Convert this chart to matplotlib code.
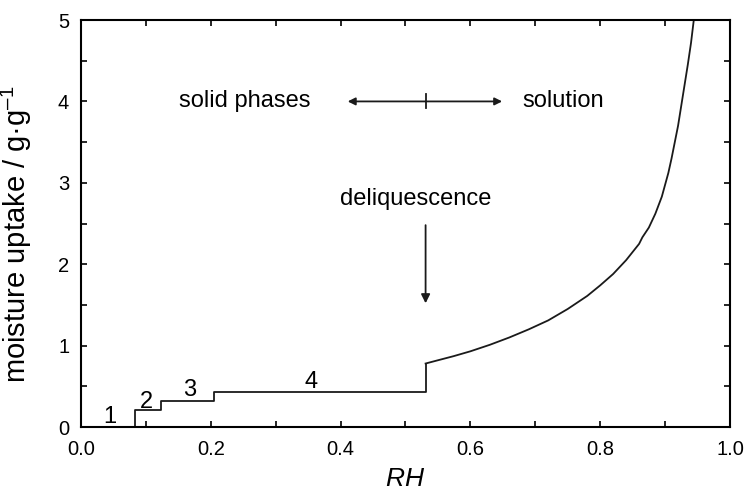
import matplotlib
matplotlib.use("Agg")
import matplotlib.pyplot as plt
from matplotlib.ticker import MultipleLocator, FormatStrFormatter

plt.rcParams['font.family'] = ['Liberation Sans', 'DejaVu Sans']
plt.rcParams['mathtext.fontset'] = 'custom'
plt.rcParams['mathtext.rm'] = 'Liberation Sans'
plt.rcParams['mathtext.it'] = 'Liberation Sans:italic'

# Solid hydrate steps (RH, uptake)
step_rh = [0.084, 0.084, 0.124, 0.124, 0.205, 0.205, 0.531, 0.531]
step_up = [0.0, 0.21, 0.21, 0.32, 0.32, 0.43, 0.43, 0.78]

# Solution branch (RH, uptake)
sol_rh = [0.531, 0.55, 0.574, 0.60, 0.63, 0.66, 0.69, 0.72, 0.75, 0.78, 0.80,
          0.82, 0.84, 0.86, 0.865, 0.875, 0.885, 0.895, 0.905, 0.91, 0.915,
          0.92, 0.925, 0.93, 0.935, 0.94, 0.945]
sol_up = [0.78, 0.82, 0.87, 0.93, 1.01, 1.10, 1.20, 1.31, 1.45, 1.61, 1.74,
          1.88, 2.05, 2.25, 2.33, 2.45, 2.62, 2.83, 3.12, 3.30, 3.50,
          3.70, 3.95, 4.20, 4.45, 4.72, 5.05]

phase_labels = ['1', '2', '3', '4']
phase_x = [0.045, 0.101, 0.168, 0.354]
phase_y = [0.12, 0.31, 0.45, 0.55]

fig = plt.figure(figsize=(7.47, 4.92), dpi=100)
ax = fig.add_axes([0.1084, 0.1321, 0.8688, 0.8272])

ax.plot(step_rh, step_up, color='#1a1a1a', lw=1.3)
ax.plot(sol_rh, sol_up, color='#1a1a1a', lw=1.3)

for t, x, y in zip(phase_labels, phase_x, phase_y):
    ax.text(x, y, t, ha='center', va='center', fontsize=17)

ax.text(0.253, 4.0, 'solid phases', ha='center', va='center', fontsize=17)
ax.text(0.743, 4.0, 'solution', ha='center', va='center', fontsize=17)
ax.annotate('', xy=(0.411, 4.0), xytext=(0.531, 4.0),
            arrowprops=dict(arrowstyle='-|>', color='#1a1a1a', lw=1.3,
                            mutation_scale=11, shrinkA=0, shrinkB=0))
ax.annotate('', xy=(0.649, 4.0), xytext=(0.531, 4.0),
            arrowprops=dict(arrowstyle='-|>', color='#1a1a1a', lw=1.3,
                            mutation_scale=11, shrinkA=0, shrinkB=0))
ax.plot([0.531, 0.531], [3.92, 4.09], color='#1a1a1a', lw=1.3)

ax.text(0.515, 2.8, 'deliquescence', ha='center', va='center', fontsize=17)
ax.annotate('', xy=(0.531, 1.52), xytext=(0.531, 2.48),
            arrowprops=dict(arrowstyle='-|>', color='#1a1a1a', lw=1.3,
                            mutation_scale=13, shrinkA=0, shrinkB=0))

ax.set_xlim(0, 1.0)
ax.set_ylim(0, 5)
ax.xaxis.set_major_locator(MultipleLocator(0.2))
ax.xaxis.set_minor_locator(MultipleLocator(0.1))
ax.yaxis.set_major_locator(MultipleLocator(1))
ax.yaxis.set_minor_locator(MultipleLocator(0.5))
ax.xaxis.set_major_formatter(FormatStrFormatter('%.1f'))
ax.tick_params(which='both', direction='in', top=True, right=True,
               length=4, width=1.2, labelsize=14.5)
ax.tick_params(axis='x', pad=9)
ax.tick_params(axis='y', pad=8.5)
for s in ax.spines.values():
    s.set_linewidth(1.5)

ax.set_xlabel('$\\mathit{RH}$', fontsize=19, labelpad=6)
ax.set_ylabel('moisture uptake / g·g$^{\u2013 1}$', fontsize=21)
ax.yaxis.set_label_coords(-0.072, 0.473)

fig.savefig('out.png', dpi=100)
